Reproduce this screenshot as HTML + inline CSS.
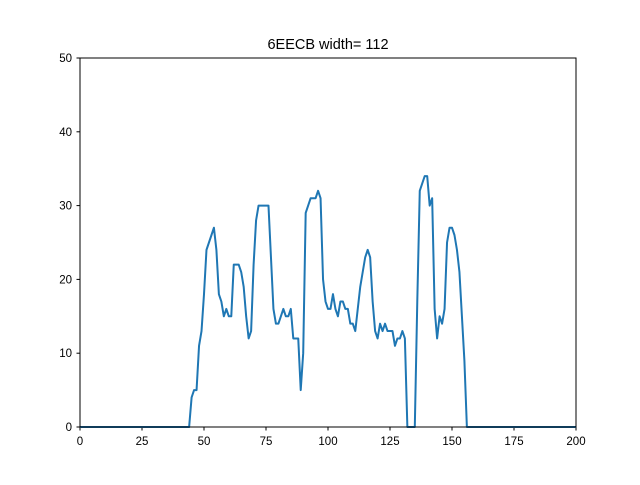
<!DOCTYPE html>
<html><head><meta charset="utf-8"><style>
body{margin:0;background:#fff}
svg text{font-family:"Liberation Sans","DejaVu Sans",sans-serif;fill:#000}
</style></head><body>
<svg id="chart" width="640" height="480">
<rect x="0" y="0" width="640" height="480" fill="#fff"/>
<text x="328" y="49" font-size="14.5" text-anchor="middle">6EECB width= 112</text>
<g id="ticks"></g>
<path id="line" fill="none" stroke="#1f77b4" stroke-width="2" stroke-linejoin="round"/>
<rect x="80" y="58" width="496" height="369" fill="none" stroke="#000" stroke-width="1"/>
</svg>
<script>
const startX = 44;
const values = [0,4,5,5,11,13,18,24,25,26,27,24,18,17,15,16,15,15,22,22,22,21,19,15,12,13,22,28,30,30,30,30,30,23,16,14,14,15,16,15,15,16,12,12,12,5,10,29,30,31,31,31,32,31,20,17,16,16,18,16,15,17,17,16,16,14,14,13,16,19,21,23,24,23,17,13,12,14,13,14,13,13,13,11,12,12,13,12,0,0,0,0,17,32,33,34,34,30,31,16,12,15,14,16,25,27,27,26,24,21,15,9,0];
const endX = 200;
const xTicks = [0,25,50,75,100,125,150,175,200];
const yTicks = [0,10,20,30,40,50];
const X = v => 80 + v / 200 * 496;
const Y = v => 427 - v / 50 * 369;
const svgNS = "http://www.w3.org/2000/svg";
let pts = [[0,0]];
for (let i = 0; i < startX; i++) pts.push([i,0]);
values.forEach((v,i) => pts.push([startX+i, v]));
pts.push([endX,0]);
document.getElementById('line').setAttribute('d', pts.map((p,i)=>(i?'L':'M')+X(p[0]).toFixed(2)+','+Y(p[1]).toFixed(2)).join(''));
const g = document.getElementById('ticks');
xTicks.forEach(t => {
  const l = document.createElementNS(svgNS,'line');
  l.setAttribute('x1',X(t)); l.setAttribute('x2',X(t)); l.setAttribute('y1',427); l.setAttribute('y2',430.5); l.setAttribute('stroke','#000');
  
  
  g.appendChild(l);
  const tx = document.createElementNS(svgNS,'text');
  tx.setAttribute('x',X(t)); tx.setAttribute('y',445); tx.setAttribute('font-size','11.5'); tx.setAttribute('text-anchor','middle');
  tx.textContent = t;
  
  
  g.appendChild(tx);
});
yTicks.forEach(t => {
  const l = document.createElementNS(svgNS,'line');
  l.setAttribute('x1',76.5); l.setAttribute('x2',80); l.setAttribute('y1',Y(t)); l.setAttribute('y2',Y(t)); l.setAttribute('stroke','#000');
  
  
  g.appendChild(l);
  const tx = document.createElementNS(svgNS,'text');
  tx.setAttribute('x',72); tx.setAttribute('y',Y(t)+4); tx.setAttribute('font-size','11.5'); tx.setAttribute('text-anchor','end');
  tx.textContent = t;
  
  
  g.appendChild(tx);
});
</script>
</body></html>
